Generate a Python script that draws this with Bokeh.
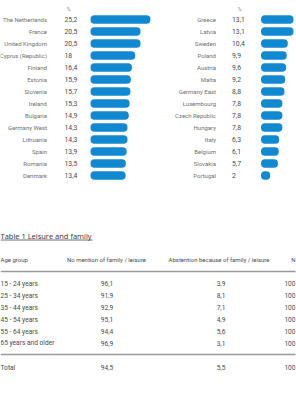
from bokeh.plotting import figure
from bokeh.models import Range1d, ColumnDataSource
from bokeh.core.properties import value
from bokeh.embed import file_html
from bokeh.resources import INLINE

# ---- data ----
left_countries = ["The Netherlands", "France", "United Kingdom", "Cyprus (Republic)", "Finland",
                  "Estonia", "Slovenia", "Ireland", "Bulgaria", "Germany West", "Lithuania",
                  "Spain", "Romania", "Denmark"]
left_values = [25.2, 20.5, 20.5, 18, 16.4, 15.9, 15.7, 15.3, 14.9, 14.3, 14.3, 13.9, 13.5, 13.4]
right_countries = ["Greece", "Latvia", "Sweden", "Poland", "Austria", "Malta", "Germany East",
                   "Luxembourg", "Czech Republic", "Hungary", "Italy", "Belgium", "Slovakia", "Portugal"]
right_values = [13.1, 13.1, 10.4, 9.9, 9.6, 9.2, 8.8, 7.8, 7.8, 7.8, 6.3, 6.1, 5.7, 2]

table_title = "Table 1 Leisure and family"
table_headers = ["Age group", "No mention of family / leisure", "Abstention because of family / leisure", "N"]
age_groups = ["15 - 24 years", "25 - 34 years", "35 - 44 years", "45 - 54 years", "55 - 64 years", "65 years and older"]
no_mention = [96.1, 91.9, 92.9, 95.1, 94.4, 96.9]
abstention = [3.9, 8.1, 7.1, 4.9, 5.6, 3.1]
n_values = [100, 100, 100, 100, 100, 100]
total_label = "Total"
total_no_mention = 94.5
total_abstention = 5.5
total_n = 100


def fmt(v):
    if float(v).is_integer():
        return str(int(v))
    return ("%.1f" % v).replace(".", ",")


W, H = 296, 396
p = figure(width=W, height=H, x_range=Range1d(0, W), y_range=Range1d(H, 0),
           output_backend="svg", toolbar_location=None, min_border=0)
p.axis.visible = False
p.grid.visible = False
p.outline_line_color = None
p.background_fill_color = "white"

FONT = value("Roboto")
GREY = "#707070"
DARK = "#4a4a4a"
BLUE = "#1189d1"

row0, step = 19.0, 12.0
scale = 2.1


def column(countries, vals, label_x, val_x, bar_x, cap, pct_x):
    ys = [row0 + i * step for i in range(len(countries))]
    rights = [bar_x + cap + v * scale for v in vals]
    src = ColumnDataSource(dict(y=ys, name=countries, txt=[fmt(v) for v in vals],
                                left=[bar_x] * len(vals), right=rights))
    p.text(x=label_x, y="y", text="name", source=src, text_align="right", text_baseline="middle",
           text_font=FONT, text_font_size="6px", text_color=GREY)
    p.text(x=val_x, y="y", text="txt", source=src, text_align="left", text_baseline="middle",
           text_font=FONT, text_font_size="6.8px", text_color=DARK)
    p.hbar(y="y", left="left", right="right", height=8.5, source=src, fill_color=BLUE,
           line_color=None, border_radius=4)
    p.text(x=[pct_x], y=[8], text=["%"], text_align="center", text_baseline="middle",
           text_font=FONT, text_font_size="5px", text_color="#888888")


column(left_countries, left_values, 46.5, 64, 90, 7, 68)
column(right_countries, right_values, 215.5, 231.5, 260.5, 5, 239)

# ---- table ----
p.text(x=[0], y=[235], text=[table_title], text_align="left", text_baseline="middle",
       text_font=value("Open Sans"), text_font_size="7.5px", text_color="#333333")
p.segment(x0=[0], y0=[239.5], x1=[92], y1=[239.5], line_color="#333333", line_width=0.7)

hdr_y = 259
hx = [0, 106, 218.5, 295]
ha = ["left", "center", "center", "right"]
for t, x, a in zip(table_headers, hx, ha):
    p.text(x=[x], y=[hdr_y], text=[t], text_align=a, text_baseline="middle",
           text_font=FONT, text_font_size="6px", text_color=DARK)

p.segment(x0=[0, 0], y0=[271, 354], x1=[295, 295], y1=[271, 354], line_color="#9a9a9a", line_width=1.5)

row_ys = [283, 295, 307, 319, 331, 342.5]
tsrc = ColumnDataSource(dict(y=row_ys, a=age_groups, b=[fmt(v) for v in no_mention],
                             c=[fmt(v) for v in abstention], n=[str(v) for v in n_values]))
for col, x, a in [("a", 0, "left"), ("b", 106.5, "center"), ("c", 220.5, "center"), ("n", 295, "right")]:
    p.text(x=x, y="y", text=col, source=tsrc, text_align=a, text_baseline="middle",
           text_font=FONT, text_font_size="6.6px", text_color=DARK)

ty = 367
for t, x, a in [(total_label, 0, "left"), (fmt(total_no_mention), 106.5, "center"),
                (fmt(total_abstention), 220.5, "center"), (str(total_n), 295, "right")]:
    p.text(x=[x], y=[ty], text=[t], text_align=a, text_baseline="middle",
           text_font=FONT, text_font_size="6.6px", text_color=DARK)

open("out.html", "w").write(file_html(p, INLINE))
